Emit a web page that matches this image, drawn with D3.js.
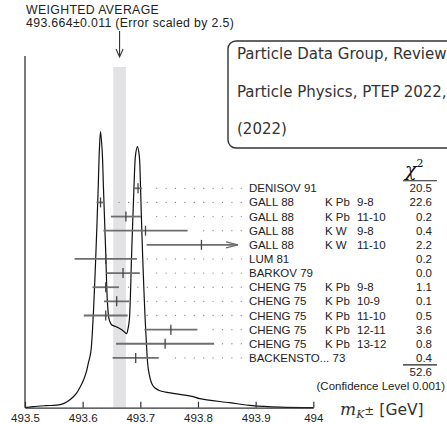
<!DOCTYPE html>
<html>
<head>
<meta charset="utf-8">
<script src="https://cdn.jsdelivr.net/npm/d3@7"></script>
<style>
  body { margin: 0; background: #fff; }
  svg { display: block; }
</style>
</head>
<body>
<div id="chart"></div>
<script>
// measurements, top to bottom
const names = ["DENISOV 91", "GALL 88", "GALL 88", "GALL 88", "GALL 88", "LUM 81", "BARKOV 79",
  "CHENG 75", "CHENG 75", "CHENG 75", "CHENG 75", "CHENG 75", "BACKENSTO... 73"];
const targets = ["", "K Pb", "K Pb", "K W", "K W", "", "", "K Pb", "K Pb", "K Pb", "K Pb", "K Pb", ""];
const transitions = ["", "9-8", "11-10", "9-8", "11-10", "", "", "9-8", "10-9", "11-10", "12-11", "13-12", ""];
const values = [493.696, 493.631, 493.675, 493.709, 493.806, 493.640, 493.670,
  493.640, 493.659, 493.640, 493.753, 493.743, 493.692];
const errors = [0.007, 0.007, 0.026, 0.073, 0.095, 0.054, 0.029,
  0.023, 0.022, 0.038, 0.046, 0.085, 0.040];
const chi2 = ["20.5", "22.6", "0.2", "0.4", "2.2", "0.2", "0.0", "1.1", "0.1", "0.5", "3.6", "0.8", "0.4"];
const chi2Total = "52.6";
const confLevel = "0.001";

const avgValue = 493.664, avgError = 0.011, errScale = 2.5;
const xTicks = [493.5, 493.6, 493.7, 493.8, 493.9, 494];

// ideogram (mass, height in arbitrary units)
const curveMass = [493.500, 493.514, 493.535, 493.561, 493.573, 493.584, 493.590, 493.595, 493.601,
  493.606, 493.610, 493.614, 493.618, 493.623, 493.627, 493.629, 493.631, 493.634, 493.636,
  493.640, 493.643, 493.646, 493.650, 493.658, 493.665, 493.672, 493.676, 493.679, 493.681,
  493.685, 493.689, 493.692, 493.695, 493.698, 493.700, 493.702, 493.706, 493.710, 493.714,
  493.720, 493.725, 493.734, 493.760, 493.792, 493.803, 493.855, 493.895, 493.942, 494.000];
const curveHeight = [0, 1, 2, 3, 6, 11, 15, 20, 27,
  35, 45, 55, 88, 155, 221, 258, 276, 255, 221,
  155, 105, 88, 83, 81, 79, 76, 74, 80, 88,
  155, 221, 254, 261, 253, 228, 188, 121, 71, 38,
  24, 20, 17, 14, 11, 9, 5, 2, 0.5, 0];

const refLines = ["Particle Data Group, Review of", "Particle Physics, PTEP 2022, 083C01", "(2022)"];

const W = 447, H = 424;
const sans = "'Liberation Sans', Arial, Helvetica, sans-serif";

const svg = d3.select("#chart").append("svg")
  .attr("width", W).attr("height", H);

const x = d3.scaleLinear().domain([493.5, 494]).range([25, 313.3]);
const y = d3.scaleLinear().domain([0, 300]).range([407.7, 107.7]);
const row = d3.scaleLinear().domain([0, names.length - 1]).range([188.3, 357.9]);

// weighted average band
svg.append("rect")
  .attr("x", x(avgValue - avgError))
  .attr("width", x(avgValue + avgError) - x(avgValue - avgError))
  .attr("y", 67).attr("height", y(0) - 67)
  .attr("fill", "#e2e2e5");

// ideogram
const pts = curveMass.map((m, i) => [m, curveHeight[i]]);
svg.append("path")
  .datum(pts)
  .attr("d", d3.line().x(d => x(d[0])).y(d => y(d[1])).curve(d3.curveCatmullRom.alpha(0.5)))
  .attr("fill", "none").attr("stroke", "#111").attr("stroke-width", 1.2);

// axes
const axis = svg.append("g").attr("transform", `translate(0,${y(0)})`)
  .call(d3.axisBottom(x).tickValues(xTicks).tickSizeInner(-6).tickSizeOuter(0).tickFormat(d3.format("")));
axis.select(".domain").attr("stroke", "#333").attr("stroke-width", 1.3);
axis.selectAll(".tick line").attr("stroke", "#333").attr("stroke-width", 1.2);
axis.selectAll(".tick text").attr("dy", "0.9em").attr("y", 4)
  .style("font-family", sans).style("font-size", "11.5px").attr("fill", "#222");

svg.append("line")
  .attr("x1", x(493.5)).attr("x2", x(493.5))
  .attr("y1", 56).attr("y2", y(0))
  .attr("stroke", "#333").attr("stroke-width", 1.3);

// axis title m_K± [GeV]
const tt = svg.append("text").attr("x", 340).attr("y", 415).attr("fill", "#333");
tt.append("tspan").text("m").style("font-family", "'DejaVu Serif', serif").style("font-style", "italic").style("font-size", "17px");
tt.append("tspan").text("K").attr("dy", 3).style("font-family", "'DejaVu Serif', serif").style("font-style", "italic").style("font-size", "11px");
tt.append("tspan").text("±").attr("dy", -3).style("font-family", "'DejaVu Sans', sans-serif").style("font-size", "12px");
tt.append("tspan").text(" [GeV]").style("font-family", "'DejaVu Sans', sans-serif").style("font-size", "15.5px");

// heading and arrow
const head = svg.append("g").style("font-family", sans).style("font-size", "12.3px")
  .style("letter-spacing", "0.35px").attr("fill", "#222");
head.append("text").attr("x", 26).attr("y", 14).text("WEIGHTED AVERAGE");
head.append("text").attr("x", 26).attr("y", 27)
  .text(`${avgValue}±${avgError} (Error scaled by ${errScale})`);

const ax = x(avgValue);
svg.append("path")
  .attr("d", `M${ax},31 L${ax},57 M${ax - 3.5},49 L${ax},57 L${ax + 3.5},49`)
  .attr("fill", "none").attr("stroke", "#333").attr("stroke-width", 1.1);

// dotted leaders
const dotEnd = 241.3, dotStep = 9.4, clipX = 238;
names.forEach((n, i) => {
  const hi = x(values[i] + errors[i]);
  if (hi > clipX) return;
  const dots = d3.range(dotEnd, hi + 8, -dotStep);
  svg.selectAll(null).data(dots).join("circle")
    .attr("cx", d => d).attr("cy", row(i)).attr("r", 0.65).attr("fill", "#888");
});

// error bars
const bars = svg.append("g");
names.forEach((n, i) => {
  const lo = x(values[i] - errors[i]);
  const hiRaw = x(values[i] + errors[i]);
  const hi = Math.min(hiRaw, clipX);
  const yy = row(i);
  bars.append("line").attr("x1", lo).attr("x2", hi).attr("y1", yy).attr("y2", yy)
    .attr("stroke", "#6e6e6e").attr("stroke-width", 1.8);
  bars.append("line").attr("x1", x(values[i])).attr("x2", x(values[i]))
    .attr("y1", yy - 5).attr("y2", yy + 5)
    .attr("stroke", "#444").attr("stroke-width", 1.3);
  if (hiRaw > clipX) {
    bars.append("path").attr("d", `M${clipX - 12},${yy - 3} L${clipX},${yy} L${clipX - 12},${yy + 3}`)
      .attr("fill", "none").attr("stroke", "#6e6e6e").attr("stroke-width", 1.3);
  }
});

// labels
const lab = svg.append("g").style("font-family", sans).style("font-size", "11.5px").attr("fill", "#222");
lab.selectAll(".nm").data(names).join("text")
  .attr("x", 249).attr("y", (d, i) => row(i)).attr("dy", "0.35em").text(d => d);
lab.selectAll(".tg").data(targets).join("text")
  .attr("x", 325).attr("y", (d, i) => row(i)).attr("dy", "0.35em").text(d => d);
lab.selectAll(".tr").data(transitions).join("text")
  .attr("x", 357).attr("y", (d, i) => row(i)).attr("dy", "0.35em").text(d => d);
lab.selectAll(".ch").data(chi2).join("text")
  .attr("x", 432).attr("y", (d, i) => row(i)).attr("dy", "0.35em")
  .attr("text-anchor", "end").text(d => d);

const nRows = names.length;
lab.append("text").attr("x", 432).attr("y", row(nRows)).attr("dy", "0.35em")
  .attr("text-anchor", "end").text(chi2Total);
lab.append("text").attr("x", 445).attr("y", row(nRows + 1)).attr("dy", "0.35em")
  .attr("text-anchor", "end").text(`(Confidence Level  ${confLevel})`);

// chi2 header and rules
const chi = svg.append("text").attr("x", 405).attr("y", 176).attr("fill", "#111");
chi.append("tspan").text("χ").style("font-family", "'DejaVu Serif', serif").style("font-style", "italic").style("font-size", "19px");
chi.append("tspan").text("2").attr("dy", -9).style("font-family", "'DejaVu Serif', serif").style("font-size", "11px");

[row(0) - 7.5, row(nRows - 1) + 7].forEach(yy => {
  svg.append("line").attr("x1", 403).attr("x2", 437).attr("y1", yy).attr("y2", yy)
    .attr("stroke", "#222").attr("stroke-width", 1.1);
});

// reference box
svg.append("rect")
  .attr("x", 228).attr("y", 41).attr("width", 240).attr("height", 107)
  .attr("rx", 8).attr("fill", "#fff").attr("stroke", "#333").attr("stroke-width", 1.4);
svg.append("g").style("font-family", "'DejaVu Sans', sans-serif").style("font-size", "15px").attr("fill", "#333")
  .selectAll("text").data(refLines).join("text")
  .attr("x", 237).attr("y", (d, i) => 54 + i * 37.5).attr("dy", "0.35em").text(d => d);
</script>
</body>
</html>
